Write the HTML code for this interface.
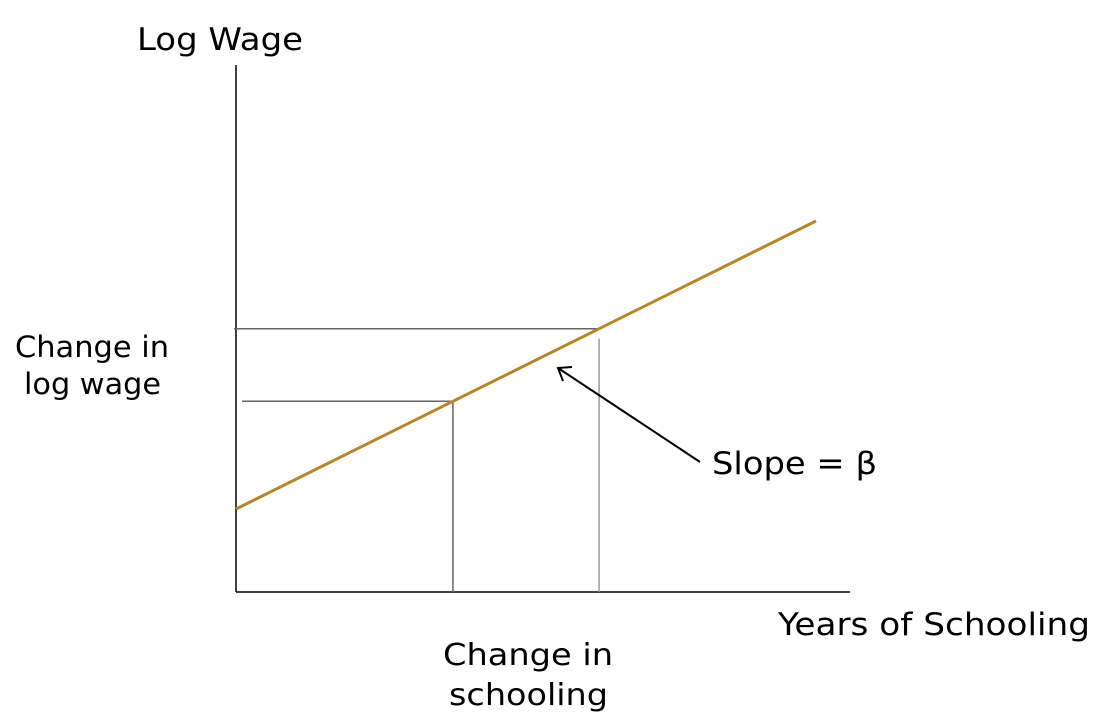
<!DOCTYPE html>
<html><head><meta charset="utf-8"><style>
html,body{margin:0;padding:0;background:#fff;}
svg{display:block;}
text{font-family:"DejaVu Sans","Liberation Sans",sans-serif;fill:#000;}
</style></head><body>
<svg id="chart" width="1101" height="720" viewBox="0 0 1101 720" xmlns="http://www.w3.org/2000/svg">
<line x1="236" y1="65" x2="236" y2="592" stroke="#000" stroke-width="1.5"/>
<line x1="236" y1="592" x2="850" y2="592" stroke="#000" stroke-width="1.5"/>
<g id="marks"></g>
<line x1="700" y1="462" x2="558" y2="368" stroke="#000" stroke-width="2"/>
<polyline points="572,367 558,368 563,381" fill="none" stroke="#000" stroke-width="2"/>
<text x="137" y="50" font-size="31" textLength="166" lengthAdjust="spacingAndGlyphs">Log Wage</text>
<text x="778" y="635" font-size="31" textLength="312" lengthAdjust="spacingAndGlyphs">Years of Schooling</text>
<text font-size="29"><tspan x="15" y="357" textLength="154" lengthAdjust="spacingAndGlyphs">Change in</tspan><tspan x="24" y="394" textLength="137" lengthAdjust="spacingAndGlyphs">log wage</tspan></text>
<text font-size="30"><tspan x="443" y="665" textLength="170" lengthAdjust="spacingAndGlyphs">Change in</tspan><tspan x="449" y="705" textLength="159" lengthAdjust="spacingAndGlyphs">schooling</tspan></text>
<text x="712" y="474" font-size="31" textLength="165" lengthAdjust="spacingAndGlyphs">Slope = β</text>
</svg>
<script>
const lineX = [0, 10];
const lineY = [1.575, 7.04];
const markX = [3.74, 6.26];
function sx(v){return 236 + v*58;}
function sy(v){return 592 - v*52.7;}
function yAt(x){return lineY[0] + (lineY[1]-lineY[0])*(x-lineX[0])/(lineX[1]-lineX[0]);}
const g = document.getElementById('marks');
const NS = 'http://www.w3.org/2000/svg';
function ln(x1,y1,x2,y2,stroke,w,name){
  const l=document.createElementNS(NS,'line');
  l.setAttribute('x1',x1);l.setAttribute('y1',y1);l.setAttribute('x2',x2);l.setAttribute('y2',y2);
  l.setAttribute('stroke',stroke);l.setAttribute('stroke-width',w);
  
  
  g.appendChild(l);
}
const y1p = sy(yAt(markX[0])), y2p = sy(yAt(markX[1]));
ln(242, y1p, sx(markX[0]), y1p, '#666', 1.5, 'guide-horizontal-low');
ln(sx(markX[0]), y1p, sx(markX[0]), 592, '#666', 1.5, 'guide-vertical-low');
ln(234, y2p, sx(markX[1]), y2p, '#666', 1.5, 'guide-horizontal-high');
ln(sx(markX[1]), y2p+10, sx(markX[1]), 592, '#999', 1.5, 'guide-vertical-high');
ln(sx(lineX[0]), sy(lineY[0]), sx(lineX[1]), sy(lineY[1]), '#B5862A', 3, 'regression-line');
</script>
</body></html>
